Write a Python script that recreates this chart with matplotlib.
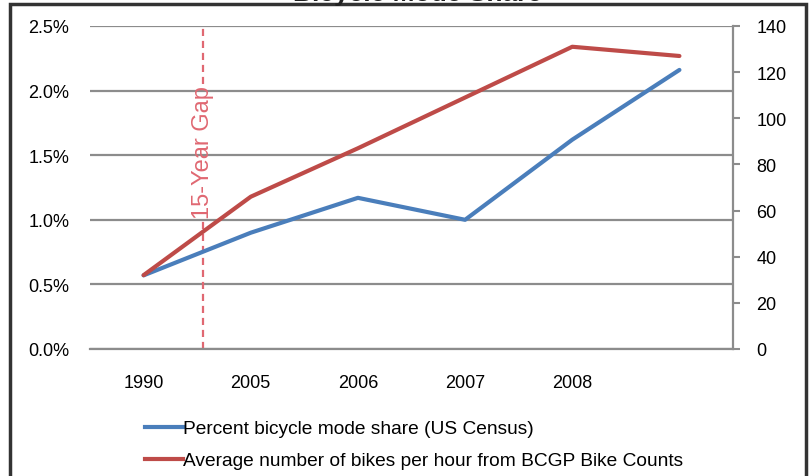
import matplotlib
matplotlib.use("Agg")
import matplotlib.pyplot as plt
from matplotlib.patches import Rectangle
from matplotlib.lines import Line2D
from matplotlib.ticker import FuncFormatter

plt.rcParams["font.family"] = ["Liberation Sans", "DejaVu Sans"]

# data
years = ["1990", "2005", "2006", "2007", "2008", ""]
mode_share = [0.57, 0.90, 1.17, 1.00, 1.62, 2.16]        # percent
bikes_per_hour = [32, 66, 87, 109, 131, 127]
left_ticks = [0.0, 0.5, 1.0, 1.5, 2.0, 2.5]
right_ticks = [0, 20, 40, 60, 80, 100, 120, 140]

BLUE = "#4a7ebb"
RED = "#be4b48"
GRID = "#8c8c8c"
GAP = "#e06872"

fig = plt.figure(figsize=(8.11, 4.77), dpi=100)
ax = fig.add_axes([90 / 811, 1 - 350 / 477, (733 - 90) / 811, (350 - 27) / 477])
ax2 = ax.twinx()

x = list(range(len(years)))
ax.plot(x, mode_share, color=BLUE, lw=3, solid_capstyle="round", zorder=3)
ax2.plot(x, bikes_per_hour, color=RED, lw=3, solid_capstyle="round", zorder=3)

ax.set_xlim(-0.5, len(years) - 0.5)
ax.set_ylim(0, 2.5)
ax2.set_ylim(0, 140)

ax.set_yticks(left_ticks)
ax.yaxis.set_major_formatter(FuncFormatter(lambda v, p: f"{v:.1f}%"))
ax2.set_yticks(right_ticks)
ax.set_xticks(x)
ax.set_xticklabels(years)

ax.grid(axis="y", color=GRID, lw=1.6)
ax.set_axisbelow(True)
ax.tick_params(axis="y", length=0, pad=15, labelsize=13)
ax.tick_params(axis="x", length=0, pad=18, labelsize=13)
ax2.tick_params(axis="y", length=5, width=1.5, color=GRID, pad=12, labelsize=13)

for s in ["left", "top", "right"]:
    ax.spines[s].set_visible(False)
for s in ["left", "top", "bottom"]:
    ax2.spines[s].set_visible(False)
ax.spines["bottom"].set_color(GRID)
ax.spines["bottom"].set_linewidth(1.6)
ax2.spines["right"].set_color(GRID)
ax2.spines["right"].set_linewidth(1.6)

# 15-year gap marker
gap_x = 0.555
ax.axvline(gap_x, ymin=0, ymax=0.40, color=GAP, lw=1.6, ls=(0, (3.2, 2.2)))
ax.axvline(gap_x, ymin=0.82, ymax=1, color=GAP, lw=1.6, ls=(0, (3.2, 2.2)))
ax.text(gap_x, 1.53, "15-Year Gap", rotation=90, color=GAP, fontsize=17,
        ha="center", va="center")

handles = [Line2D([], [], color=BLUE, lw=3), Line2D([], [], color=RED, lw=3)]
labels = ["Percent bicycle mode share (US Census)",
          "Average number of bikes per hour from BCGP Bike Counts"]
fig.legend(handles, labels, loc="upper left", bbox_to_anchor=(145 / 811, 1 - 421 / 477),
           frameon=False, fontsize=13.8, handlelength=2.0, handletextpad=0.0,
           labelspacing=0.75, borderpad=0, borderaxespad=0)

# chart title, mostly cut off at the top of the picture as in the reference
fig.text(0.515, 1 - 1 / 477, "Bicycle Mode Share", ha="center", va="baseline",
         fontsize=19, fontweight="bold", color="#222222")

# outer chart frame
fig.add_artist(Rectangle((10 / 811, -0.05), (806 - 10) / 811, 1.05 - 5 / 477,
                         transform=fig.transFigure, fill=False, ec="#333333", lw=2.5,
                         clip_on=False))

fig.savefig("out.png", dpi=100, facecolor="white")
